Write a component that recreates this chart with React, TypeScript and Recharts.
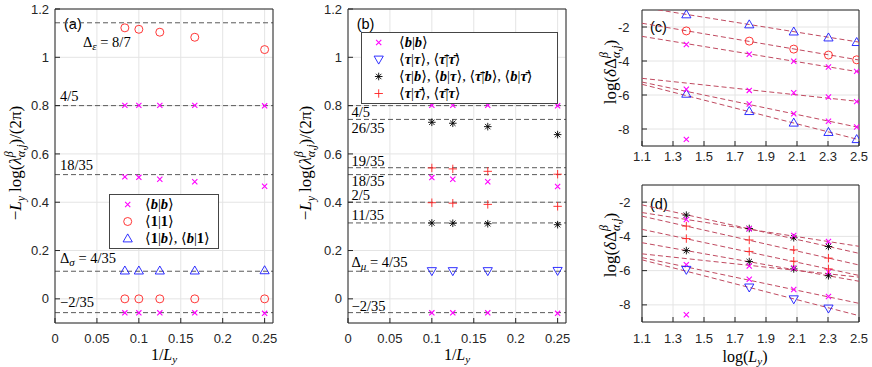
import React from "react";
import {
  CartesianGrid,
  Legend,
  ReferenceLine,
  Scatter,
  ScatterChart,
  XAxis,
  YAxis,
} from "recharts";

const SANS = "'Liberation Sans', Arial, Helvetica, sans-serif";
const SERIF = "'Liberation Serif', 'DejaVu Serif', serif";
const AX = "#262626";
const GRID = "#e4e4e4";
const MAG = "#ff00ff";
const RED = "#ff2020";
const BLUE = "#1a1aff";
const BLACK = "#000000";
const FIT = "#c04a60";
const REF = "#5a5a5a";

// panel (a): x = 1/Ly for Ly = 12, 10, 8, 6, 4
const aX = [0.0833, 0.1, 0.125, 0.1667, 0.25];
const aBBhi = [0.801, 0.801, 0.801, 0.801, 0.799];
const aBBmid = [0.505, 0.503, 0.495, 0.485, 0.466];
const aBBlo = [-0.058, -0.058, -0.058, -0.058, -0.06];
const a11hi = [1.122, 1.116, 1.104, 1.083, 1.032];
const a11lo = [0, 0, 0, 0, 0];
const a1b = [0.117, 0.117, 0.117, 0.117, 0.118];
const aRefs = [1.1429, 0.8, 0.5143, 0.1143, -0.0571];

// panel (b): Ly = 10, 8, 6, 4
const bX = [0.1, 0.125, 0.1667, 0.25];
const bBBhi = [0.801, 0.801, 0.801, 0.799];
const bBBmid = [0.502, 0.495, 0.485, 0.465];
const bBBlo = [-0.058, -0.058, -0.058, -0.06];
const bTT = [0.115, 0.115, 0.115, 0.116];
const bTBhi = [0.731, 0.727, 0.713, 0.68];
const bTBlo = [0.314, 0.313, 0.311, 0.307];
const bTTbhi = [0.542, 0.538, 0.528, 0.516];
const bTTblo = [0.398, 0.396, 0.391, 0.383];
const bRefs = [0.8, 0.7429, 0.5429, 0.5143, 0.4, 0.3143, 0.1143, -0.0571];

const abXTicks = [0, 0.05, 0.1, 0.15, 0.2, 0.25];
const abYTicks = [0, 0.2, 0.4, 0.6, 0.8, 1, 1.2];

// panel (c): x = log(Ly) for Ly = 4, 6, 8, 10, 12
const cX = [1.386, 1.792, 2.079, 2.303, 2.485];
const cTriHi = [-1.26, -1.85, -2.27, -2.62, -2.89];
const cTriLo = [-5.93, -6.95, -7.63, -8.18, -8.6];
const cCirc = [-2.23, -2.83, -3.3, -3.65, -3.93];
const cX1 = [-3.03, -3.6, -4.01, -4.35, -4.61];
const cX2 = [-5.66, -5.73, -5.87, -6.12, -6.39];
const cX3 = [-8.61, -6.53, -7.1, -7.54, -7.88];

// fitted lines, values at log(Ly) = 1.1 and 2.5
const fitX = [1.1, 2.5];
const cFits = [
  [-0.84, -2.89],
  [-1.78, -3.94],
  [-2.55, -4.64],
  [-5.02, -6.38],
  [-5.24, -7.91],
  [-5.37, -8.63],
];

// panel (d): Ly = 4, 6, 8, 10
const dX = [1.386, 1.792, 2.079, 2.303];
const dStarHi = [-2.76, -3.54, -4.08, -4.59];
const dStarLo = [-4.83, -5.47, -5.9, -6.3];
const dXhi = [-3.01, -3.56, -3.95, -4.3];
const dXmid = [-5.65, -5.73, -5.85, -6.08];
const dXlo = [-8.58, -6.5, -7.1, -7.51];
const dPlusHi = [-3.4, -4.21, -4.79, -5.27];
const dPlusLo = [-4.13, -4.88, -5.45, -5.9];
const dTri = [-5.95, -6.98, -7.67, -8.21];
const dFits = [
  [-2.16, -4.99],
  [-2.61, -4.58],
  [-2.82, -5.67],
  [-3.59, -6.28],
  [-4.37, -6.62],
  [-5.02, -6.38],
  [-5.24, -7.91],
  [-5.37, -8.63],
];

const cdXTicks = [1.1, 1.3, 1.5, 1.7, 1.9, 2.1, 2.3, 2.5];
const cdYTicks = [-8, -6, -4, -2];

const pts = (xs: number[], ys: number[]) => xs.map((x, i) => ({ x, y: ys[i] }));

type MP = { cx?: number; cy?: number };

const xMark = (p: MP) => {
  const { cx = 0, cy = 0 } = p;
  const s = 2.6;
  return (
    <path
      d={`M${cx - s} ${cy - s}L${cx + s} ${cy + s}M${cx - s} ${cy + s}L${cx + s} ${cy - s}`}
      stroke={MAG}
      strokeWidth={1.1}
      fill="none"
    />
  );
};
const circMark = (p: MP) => (
  <circle cx={p.cx} cy={p.cy} r={4} fill="none" stroke={RED} strokeWidth={0.9} />
);
const triUp = (p: MP) => {
  const { cx = 0, cy = 0 } = p;
  return (
    <path
      d={`M${cx} ${cy - 4.6}L${cx + 4.6} ${cy + 3.4}L${cx - 4.6} ${cy + 3.4}Z`}
      stroke={BLUE}
      strokeWidth={0.9}
      fill="none"
    />
  );
};
const triDown = (p: MP) => {
  const { cx = 0, cy = 0 } = p;
  return (
    <path
      d={`M${cx - 4.6} ${cy - 3.4}L${cx + 4.6} ${cy - 3.4}L${cx} ${cy + 4.6}Z`}
      stroke={BLUE}
      strokeWidth={0.9}
      fill="none"
    />
  );
};
const plusMark = (p: MP) => {
  const { cx = 0, cy = 0 } = p;
  const s = 4.2;
  return (
    <path
      d={`M${cx - s} ${cy}L${cx + s} ${cy}M${cx} ${cy - s}L${cx} ${cy + s}`}
      stroke={RED}
      strokeWidth={0.9}
      fill="none"
    />
  );
};
const starMark = (p: MP) => {
  const { cx = 0, cy = 0 } = p;
  const s = 3.8;
  const d = 2.7;
  return (
    <path
      d={`M${cx - s} ${cy}L${cx + s} ${cy}M${cx} ${cy - s}L${cx} ${cy + s}M${cx - d} ${cy - d}L${cx + d} ${cy + d}M${cx - d} ${cy + d}L${cx + d} ${cy - d}`}
      stroke={BLACK}
      strokeWidth={0.9}
      fill="none"
    />
  );
};
const noMark = () => <g />;

const tickStyle = { fill: AX, fontSize: 13, fontFamily: SANS };
const fitLine = { stroke: FIT, strokeWidth: 1, strokeDasharray: "5 3" };

const refLabel = (node: React.ReactNode, dx: number, dy: number) => (props: any) => {
  const vb = props.viewBox || { x: 0, y: 0 };
  return (
    <text x={vb.x + dx} y={vb.y + dy} fontFamily={SERIF} fontSize={14.5} fill="#000">
      {node}
    </text>
  );
};

const sub = (t: string) => (
  <tspan fontStyle="italic" fontSize={11} dy={3}>
    {t}
  </tspan>
);

function LambdaLabel({ x, y }: { x: number; y: number }) {
  return (
    <text
      transform={`translate(${x},${y}) rotate(-90)`}
      textAnchor="middle"
      fontFamily={SERIF}
      fontSize={17}
      fill="#000"
    >
      <tspan>−</tspan>
      <tspan fontStyle="italic">L</tspan>
      <tspan fontStyle="italic" fontSize={12} dy={4}>y</tspan>
      <tspan dy={-4} dx={4}>log(</tspan>
      <tspan fontStyle="italic">λ</tspan>
      <tspan fontStyle="italic" fontSize={12} dy={-8}>β</tspan>
      <tspan fontStyle="italic" fontSize={12} dx={-6} dy={12}>α,j</tspan>
      <tspan dy={-4}>)/(2π)</tspan>
    </text>
  );
}

function DeltaLabel({ x, y }: { x: number; y: number }) {
  return (
    <text
      transform={`translate(${x},${y}) rotate(-90)`}
      textAnchor="middle"
      fontFamily={SERIF}
      fontSize={17}
      fill="#000"
    >
      <tspan>log(</tspan>
      <tspan fontStyle="italic">δ</tspan>
      <tspan>Δ</tspan>
      <tspan fontStyle="italic" fontSize={12} dy={-8}>β</tspan>
      <tspan fontStyle="italic" fontSize={12} dx={-6} dy={12}>α,j</tspan>
      <tspan dy={-4}>)</tspan>
    </text>
  );
}

const bI = <b><i>b</i></b>;
const oneB = <b>1</b>;
const tauI = <b><i>τ</i></b>;
const tauBar = <b><i>τ̄</i></b>;
const ket = (l: React.ReactNode, r: React.ReactNode) => (
  <>
    ⟨{l}|{r}⟩
  </>
);

type Row = { marker: (p: MP) => React.ReactNode; label: React.ReactNode };

function LegendBox({ rows, width, mx, tx }: { rows: Row[]; width: number; mx: number; tx: number }) {
  return (
    <div
      style={{
        border: "1px solid #454545",
        background: "#fff",
        width,
        boxSizing: "border-box",
        padding: "1px 0",
        fontFamily: SERIF,
        fontSize: 14.5,
        color: "#000",
      }}
    >
      {rows.map((r, i) => (
        <div key={i} style={{ display: "flex", alignItems: "center", height: 17 }}>
          <svg width={tx} height={17} style={{ flex: "none" }}>
            {r.marker({ cx: mx, cy: 8.5 })}
          </svg>
          <span style={{ whiteSpace: "nowrap", lineHeight: "17px" }}>{r.label}</span>
        </div>
      ))}
    </div>
  );
}

const legendA: Row[] = [
  { marker: xMark, label: ket(bI, bI) },
  { marker: circMark, label: ket(oneB, oneB) },
  { marker: triUp, label: <>{ket(oneB, bI)}, {ket(bI, oneB)}</> },
];

const legendB: Row[] = [
  { marker: xMark, label: ket(bI, bI) },
  { marker: triDown, label: <>{ket(tauI, tauI)}, {ket(tauBar, tauBar)}</> },
  {
    marker: starMark,
    label: (
      <>
        {ket(tauI, bI)}, {ket(bI, tauI)}, {ket(tauBar, bI)}, {ket(bI, tauBar)}
      </>
    ),
  },
  { marker: plusMark, label: <>{ket(tauI, tauBar)}, {ket(tauBar, tauI)}</> },
];

function frame(
  xDomain: number[],
  xTicks: number[],
  yDomain: number[],
  yTicks: number[],
  xMargin: number,
  yMargin: number
) {
  return [
    <CartesianGrid key="g" stroke={GRID} />,
    <XAxis
      key="xb"
      type="number"
      dataKey="x"
      domain={xDomain}
      ticks={xTicks}
      interval={0}
      allowDataOverflow
      height={30}
      tickSize={-5}
      tickMargin={xMargin}
      tick={tickStyle}
      stroke={AX}
    />,
    <XAxis
      key="xt"
      xAxisId="top"
      orientation="top"
      type="number"
      domain={xDomain}
      ticks={xTicks}
      interval={0}
      allowDataOverflow
      height={1}
      tickSize={-5}
      tick={false}
      stroke={AX}
    />,
    <YAxis
      key="yl"
      type="number"
      dataKey="y"
      domain={yDomain}
      ticks={yTicks}
      interval={0}
      allowDataOverflow
      width={45}
      tickSize={-5}
      tickMargin={yMargin}
      tick={tickStyle}
      stroke={AX}
    />,
    <YAxis
      key="yr"
      yAxisId="right"
      orientation="right"
      type="number"
      domain={yDomain}
      ticks={yTicks}
      interval={0}
      allowDataOverflow
      width={1}
      tickSize={-5}
      tick={false}
      stroke={AX}
    />,
  ];
}

function ser(key: string, data: { x: number; y: number }[], shape: (p: MP) => React.ReactNode) {
  return <Scatter key={key} data={data} shape={shape as any} isAnimationActive={false} />;
}

function fits(prefix: string, rows: number[][]) {
  return rows.map((r, i) => (
    <Scatter
      key={`${prefix}${i}`}
      data={pts(fitX, r)}
      line={fitLine}
      shape={noMark as any}
      isAnimationActive={false}
    />
  ));
}

function XTitle({ x, y, pre, post }: { x: number; y: number; pre: string; post: string }) {
  return (
    <text x={x} y={y} textAnchor="middle" fontFamily={SERIF} fontSize={16} fill="#000">
      <tspan>{pre}</tspan>
      <tspan fontStyle="italic">L</tspan>
      <tspan fontStyle="italic" fontSize={11} dy={3}>y</tspan>
      <tspan dy={-3}>{post}</tspan>
    </text>
  );
}

function PanelA() {
  const labels = [
    refLabel(<>Δ{sub("ε")}<tspan dy={-3}> = 8/7</tspan></>, 28, 24),
    refLabel("4/5", 5, -5),
    refLabel("18/35", 5, -5),
    refLabel(<>Δ{sub("σ")}<tspan dy={-3}> = 4/35</tspan></>, 5, -8),
    refLabel("−2/35", 5, -6),
  ];
  return (
    <ScatterChart width={290} height={367} margin={{ top: 8, right: 16, bottom: 14, left: 10 }}>
      {frame([0, 0.26], abXTicks, [-0.1, 1.2], abYTicks, 15.4, 11)}
      {aRefs.map((v, i) => (
        <ReferenceLine key={`r${i}`} y={v} stroke={REF} strokeDasharray="5 3" label={labels[i]} />
      ))}
      {ser("a1", pts(aX, aBBhi), xMark)}
      {ser("a2", pts(aX, aBBmid), xMark)}
      {ser("a3", pts(aX, aBBlo), xMark)}
      {ser("a4", pts(aX, a11hi), circMark)}
      {ser("a5", pts(aX, a11lo), circMark)}
      {ser("a6", pts(aX, a1b), triUp)}
      <Legend
        layout="horizontal"
        verticalAlign="middle"
        align="center"
        wrapperStyle={{ left: 109, top: 194, width: 110 }}
        content={() => <LegendBox rows={legendA} width={110} mx={17.7} tx={35} />}
      />
      <text x={64} y={28.5} fontFamily={SANS} fontSize={14.5} fill="#000">(a)</text>
      <LambdaLabel x={21} y={163} />
      <XTitle x={164} y={360} pre="1/" post="" />
    </ScatterChart>
  );
}

function PanelB() {
  const labels = [
    refLabel("4/5", 3.5, 11),
    refLabel("26/35", 3.5, 14),
    refLabel("19/35", 3.5, -2),
    refLabel("18/35", 3.5, 11),
    refLabel("2/5", 3.5, -2),
    refLabel("11/35", 3.5, -3),
    refLabel(<>Δ{sub("μ")}<tspan dy={-3}> = 4/35</tspan></>, 3.5, -4),
    refLabel("−2/35", 3.5, -2),
  ];
  return (
    <ScatterChart width={290} height={367} margin={{ top: 8, right: 13, bottom: 14, left: 13 }}>
      {frame([0, 0.26], abXTicks, [-0.1, 1.2], abYTicks, 15.4, 11)}
      {bRefs.map((v, i) => (
        <ReferenceLine key={`r${i}`} y={v} stroke={REF} strokeDasharray="5 3" label={labels[i]} />
      ))}
      {ser("b1", pts(bX, bBBhi), xMark)}
      {ser("b2", pts(bX, bBBmid), xMark)}
      {ser("b3", pts(bX, bBBlo), xMark)}
      {ser("b4", pts(bX, bTT), triDown)}
      {ser("b5", pts(bX, bTBhi), starMark)}
      {ser("b6", pts(bX, bTBlo), starMark)}
      {ser("b7", pts(bX, bTTbhi), plusMark)}
      {ser("b8", pts(bX, bTTblo), plusMark)}
      <Legend
        layout="horizontal"
        verticalAlign="middle"
        align="center"
        wrapperStyle={{ left: 71, top: 32, width: 197 }}
        content={() => <LegendBox rows={legendB} width={197} mx={16.7} tx={37} />}
      />
      <text x={66.7} y={29} fontFamily={SANS} fontSize={14.5} fill="#000">(b)</text>
      <LambdaLabel x={21} y={163} />
      <XTitle x={167} y={360} pre="1/" post="" />
    </ScatterChart>
  );
}

function PanelC() {
  return (
    <ScatterChart width={292} height={180} margin={{ top: 9, right: 12, bottom: 4, left: 17 }}>
      {frame([1.1, 2.5], cdXTicks, [-9, -1], cdYTicks, 10.5, 17.4)}
      {fits("cf", cFits)}
      {ser("c1", pts(cX, cTriHi), triUp)}
      {ser("c2", pts(cX, cTriLo), triUp)}
      {ser("c3", pts(cX, cCirc), circMark)}
      {ser("c4", pts(cX, cX1), xMark)}
      {ser("c5", pts(cX, cX2), xMark)}
      {ser("c6", pts(cX, cX3), xMark)}
      <text x={70} y={31.7} fontFamily={SANS} fontSize={14.5} fill="#000">(c)</text>
      <DeltaLabel x={36} y={72} />
    </ScatterChart>
  );
}

function PanelD() {
  return (
    <ScatterChart width={292} height={187} margin={{ top: 4, right: 12, bottom: 15, left: 17 }}>
      {frame([1.1, 2.5], cdXTicks, [-9, -1], cdYTicks, 17, 16.4)}
      {fits("df", dFits)}
      {ser("d1", pts(dX, dStarHi), starMark)}
      {ser("d2", pts(dX, dStarLo), starMark)}
      {ser("d3", pts(dX, dXhi), xMark)}
      {ser("d4", pts(dX, dXmid), xMark)}
      {ser("d5", pts(dX, dXlo), xMark)}
      {ser("d6", pts(dX, dPlusHi), plusMark)}
      {ser("d7", pts(dX, dPlusLo), plusMark)}
      {ser("d8", pts(dX, dTri), triDown)}
      <text x={70} y={28.5} fontFamily={SANS} fontSize={14.5} fill="#000">(d)</text>
      <DeltaLabel x={36} y={65} />
      <XTitle x={165} y={182} pre="log(" post=")" />
    </ScatterChart>
  );
}

export default function App() {
  return (
    <div style={{ position: "absolute", left: 0, top: 0, width: 872, height: 367, background: "#fff", overflow: "hidden" }}>
      <div style={{ position: "absolute", left: 0, top: 0 }}>
        <PanelA />
      </div>
      <div style={{ position: "absolute", left: 290, top: 0 }}>
        <PanelB />
      </div>
      <div style={{ position: "absolute", left: 580, top: 0 }}>
        <PanelC />
      </div>
      <div style={{ position: "absolute", left: 580, top: 180 }}>
        <PanelD />
      </div>
    </div>
  );
}
